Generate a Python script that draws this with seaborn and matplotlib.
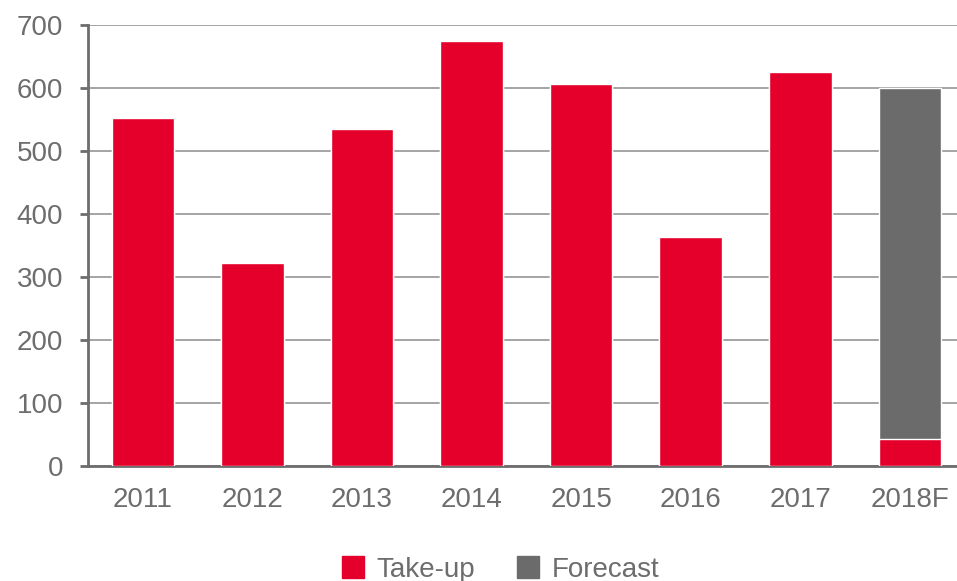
import pandas as pd
import numpy as np
import matplotlib
matplotlib.use("Agg")
import matplotlib.pyplot as plt
import seaborn as sns
from matplotlib.patches import Patch

years = ["2011", "2012", "2013", "2014", "2015", "2016", "2017", "2018F"]
take_up = [552, 322, 535, 675, 606, 364, 626, 43]
forecast = [0, 0, 0, 0, 0, 0, 0, 557]

red = "#E4002B"
grey = "#6A6B6A"
txt = "#6D6D6D"

sns.set_style("white")
plt.rcParams['font.family'] = ['Liberation Sans', 'DejaVu Sans']

df = pd.DataFrame({"year": years, "take_up": take_up, "forecast": forecast})
df["total"] = df["take_up"] + df["forecast"]

fig = plt.figure(figsize=(9.57, 5.81), dpi=100)
ax = fig.add_axes([0.092, 0.198, 0.908, 0.759])

# grey total behind, red take-up on top
sns.barplot(data=df, x="year", y="total", color=grey, width=0.57,
            saturation=1, ax=ax, zorder=2)
sns.barplot(data=df, x="year", y="take_up", color=red, width=0.57,
            saturation=1, ax=ax, zorder=3)

ax.set_xticks(np.arange(-0.5, 7.0, 1), minor=True)
ax.set_yticks(np.arange(0, 701, 100))
ax.set_ylim(0, 700)
ax.set_xlim(-0.5, 7.43)
ax.yaxis.grid(True, color="#8C8C8C", linewidth=1.1)
ax.set_axisbelow(True)
ax.set_xlabel("")
ax.set_ylabel("")

for s in ["top", "right"]:
    ax.spines[s].set_visible(False)
for s in ["left", "bottom"]:
    ax.spines[s].set_color(txt)
    ax.spines[s].set_linewidth(2)

ax.tick_params(axis="x", which="major", length=0, pad=15, labelsize=20, labelcolor=txt)
ax.tick_params(axis="x", which="minor", length=6, width=2, color=txt, direction="out")
ax.tick_params(axis="y", length=6, width=2, color=txt, direction="out", pad=12,
               labelsize=20, labelcolor=txt, left=True)

handles = [Patch(color=red, label="Take-up"), Patch(color=grey, label="Forecast")]
leg = fig.legend(handles=handles, loc="lower center", bbox_to_anchor=(0.523, -0.022),
                 ncol=2, frameon=False, fontsize=20, handlelength=0.8, handleheight=0.8,
                 handletextpad=0.45, columnspacing=1.5, borderaxespad=0)
for t in leg.get_texts():
    t.set_color(txt)

fig.savefig("out.png", dpi=100)
